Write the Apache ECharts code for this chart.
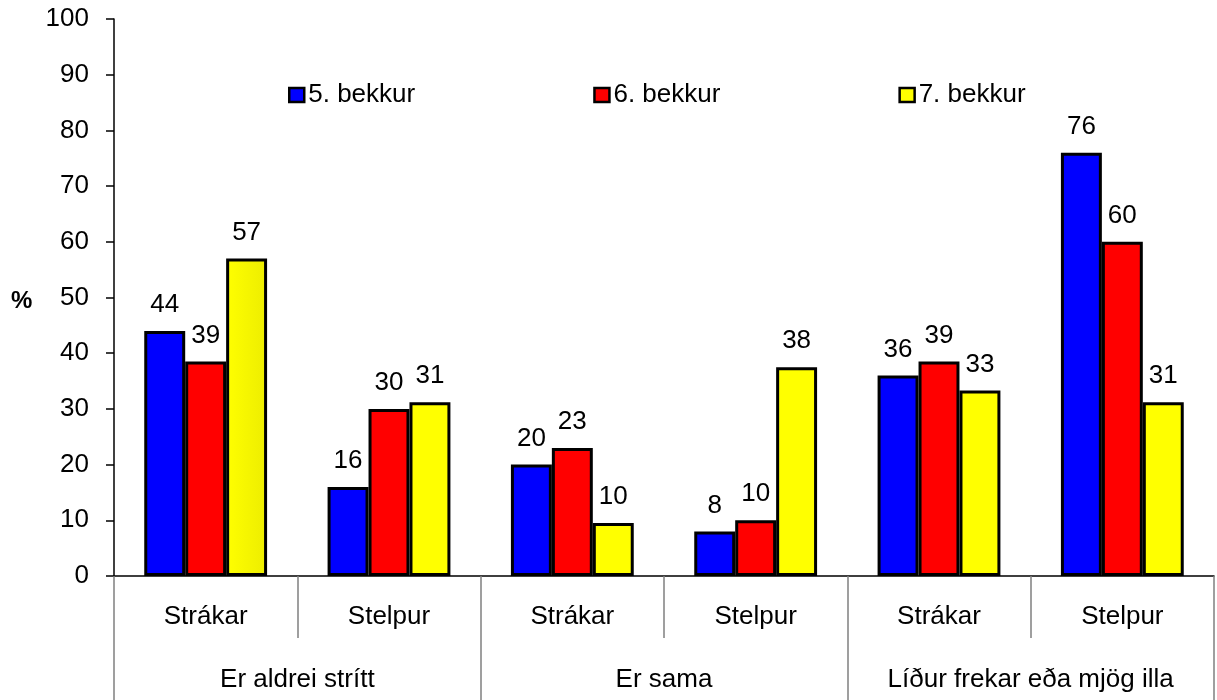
<!DOCTYPE html>
<html>
<head>
<meta charset="utf-8">
<script src="https://cdn.jsdelivr.net/npm/echarts@6/dist/echarts.min.js"></script>
<style>
html,body{margin:0;padding:0;background:#fff;}
#chart{width:1217px;height:700px;}
</style>
</head>
<body>
<div id="chart"></div>
<script>
var subCategories = ['Strákar', 'Stelpur', 'Strákar', 'Stelpur', 'Strákar', 'Stelpur'];
var groupCategories = ['Er aldrei strítt', 'Er sama', 'Líður frekar eða mjög illa'];
var seriesNames = ['5. bekkur', '6. bekkur', '7. bekkur'];
var grade5 = [44, 16, 20, 8, 36, 76];
var grade6 = [38.5, 30, 23, 10, 38.5, 60];
var grade7 = [57, 31.2, 9.5, 37.5, 33.3, 31.2];
var yTicks = [0, 10, 20, 30, 40, 50, 60, 70, 80, 90, 100];

var FONT = "'Liberation Sans', Arial, sans-serif";
var FS = 26;
var colors = ['#0000FF', '#FF0000', '#FFFF00'];
var seriesData = [grade5, grade6, grade7];

var chart = echarts.init(document.getElementById('chart'), null, {renderer: 'canvas'});

var yellowShade = new echarts.graphic.LinearGradient(0, 0, 1, 0, [
  {offset: 0, color: '#FFFF00'},
  {offset: 1, color: '#EDED00'}
]);

var series = seriesData.map(function (d, i) {
  return {
    name: seriesNames[i],
    type: 'bar',
    xAxisIndex: 0,
    data: d.map(function (v, j) {
      return (i === 2 && j === 0) ? {value: v, itemStyle: {color: yellowShade}} : v;
    }),
    barGap: '0%',
    barCategoryGap: '33%',
    itemStyle: {color: colors[i], borderColor: '#000', borderWidth: 3},
    label: {
      show: true,
      position: 'top',
      distance: 13,
      color: '#000',
      fontSize: FS,
      fontFamily: FONT,
      formatter: function (p) { return Math.round(p.value); }
    }
  };
});

chart.setOption({
  animation: false,
  backgroundColor: '#fff',
  textStyle: {fontFamily: FONT},
  grid: {left: 114, right: 3, top: 19, bottom: 124, containLabel: false},
  color: colors,
  legend: {
    data: seriesNames,
    left: 288,
    top: 82,
    padding: 0,
    itemWidth: 15,
    itemHeight: 14,
    itemGap: 178,
    icon: 'rect',
    textStyle: {fontSize: FS, color: '#000', fontFamily: FONT, padding: [0, 0, 0, -1]},
    itemStyle: {borderColor: '#000', borderWidth: 2.5}
  },
  xAxis: [
    {
      type: 'category',
      data: subCategories,
      position: 'bottom',
      axisLine: {show: true, lineStyle: {color: '#000', width: 1.5}},
      axisTick: {show: true, interval: 0, length: 62, lineStyle: {color: '#808080', width: 1.5}},
      axisLabel: {interval: 0, margin: 28, fontSize: FS, color: '#000', fontFamily: FONT},
      splitLine: {show: false}
    },
    {
      type: 'category',
      data: groupCategories,
      position: 'bottom',
      offset: 62,
      axisLine: {show: false},
      axisTick: {show: true, interval: 0, length: 62, lineStyle: {color: '#808080', width: 1.5}},
      axisLabel: {interval: 0, margin: 29, fontSize: FS, color: '#000', fontFamily: FONT},
      splitLine: {show: false}
    }
  ],
  yAxis: {
    type: 'value',
    min: yTicks[0],
    max: yTicks[yTicks.length - 1],
    interval: yTicks[1] - yTicks[0],
    axisLine: {show: true, lineStyle: {color: '#000', width: 1.5}},
    axisTick: {show: true, length: 8, lineStyle: {color: '#000', width: 1.5}},
    axisLabel: {margin: 25, fontSize: FS, color: '#000', fontFamily: FONT},
    splitLine: {show: false}
  },
  graphic: [
    {
      type: 'text',
      left: 11,
      top: 289,
      style: {text: '%', font: 'bold 24px ' + FONT, fill: '#000'}
    }
  ],
  series: series
});
</script>
</body>
</html>
